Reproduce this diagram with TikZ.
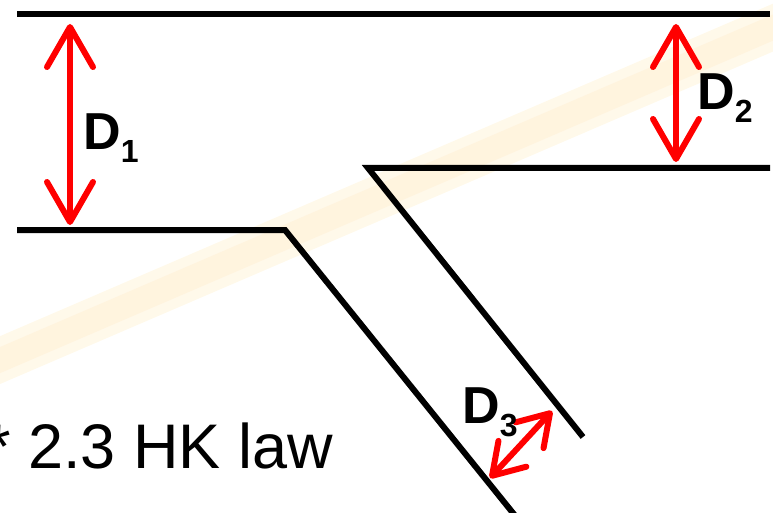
\documentclass[tikz,border=0pt]{standalone}
\usepackage{fontspec}
\setmainfont{Liberation Sans}
\usetikzlibrary{arrows.meta,calc}
\definecolor{bandcol}{RGB}{255,249,234}
\definecolor{bandcore}{RGB}{255,244,222}
\newcommand{\dsub}[1]{D\raisebox{-13pt}{\fontsize{32}{32}\selectfont #1}}

\begin{document}
\begin{tikzpicture}[
    x=1pt, y=-1pt,
    wall/.style={line width=6pt, line join=miter},
    gap/.style={red, line width=6pt, {Straight Barb[length=40pt, width=46pt, round]}-{Straight Barb[length=40pt, width=46pt, round]}},
    smallgap/.style={red, line width=6pt, {Straight Barb[length=30pt, width=38pt, round]}-{Straight Barb[length=30pt, width=38pt, round]}},
    dlabel/.style={anchor=base west, inner sep=0pt, font=\bfseries\fontsize{52}{60}\selectfont}
]
    \useasboundingbox (0,0) rectangle (773,513);

    % Faint band behind
    \coordinate (b1) at (-30,373);
    \coordinate (b2) at (800,16);
    \draw[bandcol, line width=44pt] (b1) -- (b2);
    \draw[bandcore, line width=24pt] (b1) -- (b2);

    % Walls
    \coordinate (top1) at (17,14);
    \coordinate (top2) at (770,14);
    \coordinate (low1) at (17,230);
    \coordinate (lowc) at (285,230);
    \coordinate (lowe) at (521,523);
    \coordinate (right1) at (770,168);
    \coordinate (rightc) at (368,168);
    \coordinate (righte) at (583,437);
    \draw[wall] (top1) -- (top2);
    \draw[wall] (low1) -- (lowc) -- (lowe);
    \draw[wall] (right1) -- (rightc) -- (righte);

    % Gap arrows
    \coordinate (d1a) at (70,24);
    \coordinate (d1b) at (70,225);
    \coordinate (d2a) at (676,24);
    \coordinate (d2b) at (676,162);
    \coordinate (d3a) at (490,478);
    \coordinate (d3b) at (552,411);
    \draw[gap] (d1a) -- (d1b);
    \draw[gap] (d2a) -- (d2b);
    \draw[smallgap] (d3a) -- (d3b);

    % Labels
    \node[dlabel] (lab1) at (83,150) {\dsub{1}};
    \node[dlabel] (lab2) at (697,110) {\dsub{2}};
    \node[dlabel] (lab3) at (462,423) {\dsub{3}};
    \node[anchor=base west, inner sep=0pt, font=\fontsize{63}{70}\selectfont] (law) at (-14,468) {* 2.3 HK law};
\end{tikzpicture}
\end{document}
